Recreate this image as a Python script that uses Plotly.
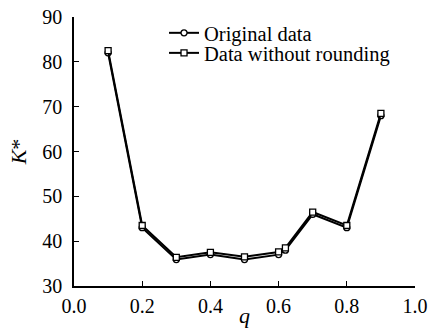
import plotly.graph_objects as go

q = [0.1, 0.2, 0.3, 0.4, 0.5, 0.6, 0.62, 0.7, 0.8, 0.9]
original = [82.0, 43.0, 35.9, 37.0, 35.9, 37.0, 38.0, 46.0, 43.0, 68.0]
no_round = [82.5, 43.5, 36.4, 37.5, 36.5, 37.6, 38.5, 46.5, 43.5, 68.5]

x_ticks = [0.0, 0.2, 0.4, 0.6, 0.8, 1.0]
x_tick_labels = ["0.0", "0.2", "0.4", "0.6", "0.8", "1.0"]
y_ticks = [30, 40, 50, 60, 70, 80, 90]

font = "Liberation Serif, Times New Roman, serif"

fig = go.Figure()
fig.add_trace(go.Scatter(
    x=q, y=original, name="Original data", mode="lines+markers",
    line=dict(color="black", width=2),
    marker=dict(symbol="circle", size=6, color="white", line=dict(color="black", width=1.3)),
    legend="legend",
))
fig.add_trace(go.Scatter(
    x=q, y=no_round, name="Data without rounding", mode="lines+markers",
    line=dict(color="black", width=2),
    marker=dict(symbol="square", size=6, color="white", line=dict(color="black", width=1.3)),
    legend="legend2",
))

leg_common = dict(xanchor="left", yanchor="middle", bgcolor="rgba(0,0,0,0)",
                  font=dict(size=20.5, family=font), itemwidth=30)

fig.update_layout(
    width=429, height=332,
    margin=dict(l=74, r=14, t=17, b=46, autoexpand=False),
    paper_bgcolor="white", plot_bgcolor="white",
    font=dict(family=font, size=20, color="black"),
    showlegend=True,
    legend=dict(x=0.264, y=0.9405, **leg_common),
    legend2=dict(x=0.264, y=0.866, **leg_common),
    xaxis=dict(range=[0, 1.0], tickvals=x_ticks, ticktext=x_tick_labels,
               showgrid=False, zeroline=False, showline=True, linecolor="black",
               linewidth=1.5, ticks="inside", ticklen=5, tickcolor="black",
               automargin=False, tickfont=dict(family=font, size=20),
               ticklabelstandoff=1),
    yaxis=dict(range=[30, 90], tickvals=y_ticks,
               showgrid=False, zeroline=False, showline=True, linecolor="black",
               linewidth=1.5, ticks="inside", ticklen=5, tickcolor="black",
               automargin=False, tickfont=dict(family=font, size=20),
               ticklabelstandoff=6,
               title=dict(text="<i>K</i>*", standoff=10, font=dict(size=22, family=font))),
    annotations=[dict(text="<i>q</i>", x=0.5, y=-0.11, xref="paper", yref="paper",
                      xanchor="center", yanchor="middle", showarrow=False,
                      font=dict(size=22, family=font))],
)

fig.write_html("out.html")
